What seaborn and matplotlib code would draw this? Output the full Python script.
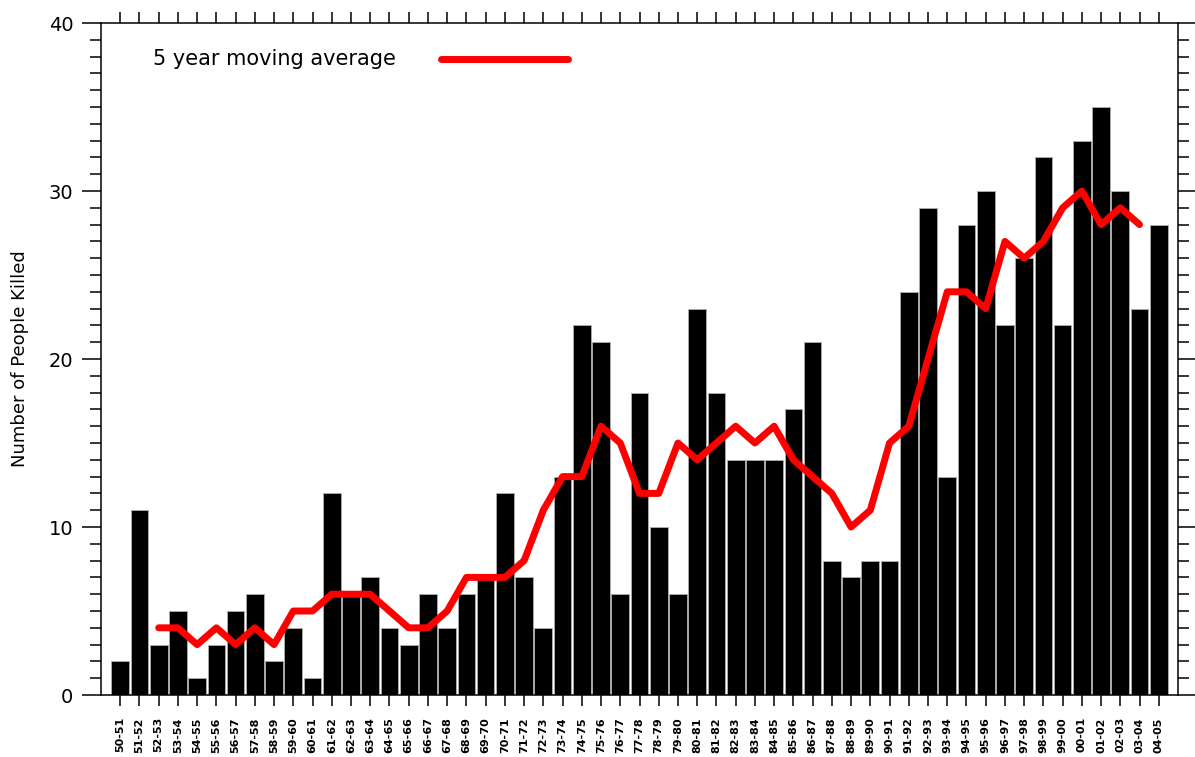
import matplotlib
matplotlib.use("Agg")
import matplotlib.pyplot as plt
import pandas as pd
import seaborn as sns
from matplotlib.ticker import MultipleLocator

# Seasons (x categories)
seasons = [
    "50-51", "51-52", "52-53", "53-54", "54-55", "55-56", "56-57", "57-58", "58-59", "59-60",
    "60-61", "61-62", "62-63", "63-64", "64-65", "65-66", "66-67", "67-68", "68-69", "69-70",
    "70-71", "71-72", "72-73", "73-74", "74-75", "75-76", "76-77", "77-78", "78-79", "79-80",
    "80-81", "81-82", "82-83", "83-84", "84-85", "85-86", "86-87", "87-88", "88-89", "89-90",
    "90-91", "91-92", "92-93", "93-94", "94-95", "95-96", "96-97", "97-98", "98-99", "99-00",
    "00-01", "01-02", "02-03", "03-04", "04-05",
]

# People killed per season (bars)
killed = [
    2, 11, 3, 5, 1, 3, 5, 6, 2, 4,
    1, 12, 6, 7, 4, 3, 6, 4, 6, 7,
    12, 7, 4, 13, 22, 21, 6, 18, 10, 6,
    23, 18, 14, 14, 14, 17, 21, 8, 7, 8,
    8, 24, 29, 13, 28, 30, 22, 26, 32, 22,
    33, 35, 30, 23, 28,
]

# 5 year moving average (red line), 52-53 .. 03-04
ma_seasons = seasons[2:54]
moving_avg = [
    4, 4, 3, 4, 3, 4, 3, 5, 5, 6,
    6, 6, 5, 4, 4, 5, 7, 7, 7, 8,
    11, 13, 13, 16, 15, 12, 12, 15, 14, 15,
    16, 15, 16, 14, 13, 12, 10, 11, 15, 16,
    20, 24, 24, 23, 27, 26, 27, 29, 30, 28,
    29, 28,
]

sns.set_style("ticks")
plt.rcParams["font.family"] = ["DejaVu Sans"]
plt.rcParams["text.color"] = "black"
plt.rcParams["axes.labelcolor"] = "black"
plt.rcParams["xtick.color"] = "black"
plt.rcParams["ytick.color"] = "black"

df = pd.DataFrame({"season": seasons, "killed": killed})

fig = plt.figure(figsize=(11.95, 7.57), dpi=100)
ax = fig.add_axes([0.0845, 0.0819, 0.9013, 0.8877])

sns.barplot(data=df, x="season", y="killed", order=seasons, color="black",
            width=0.92, saturation=1, edgecolor="#b0b0b0", linewidth=0.6, ax=ax)

ma_x = [seasons.index(s) for s in ma_seasons]
ax.plot(ma_x, moving_avg, color="#ff0000", linewidth=5, solid_joinstyle="round",
        solid_capstyle="round", zorder=5)

ax.set_xlim(-1, 55)
ax.set_ylim(0, 40)
ax.set_yticks([0, 10, 20, 30, 40])
ax.yaxis.set_minor_locator(MultipleLocator(1))
ax.set_xlabel("")
ax.set_ylabel("Number of People Killed", fontsize=13, labelpad=14)

for s in ax.spines.values():
    s.set_visible(True)
    s.set_color("black")
    s.set_linewidth(1.1)

ax.tick_params(axis="y", which="major", left=True, right=True, direction="out",
               length=14, width=1.1, labelsize=14, pad=6)
ax.tick_params(axis="y", which="minor", left=True, right=True, direction="out",
               length=8, width=1.1)
ax.tick_params(axis="x", which="major", bottom=True, top=True, direction="out",
               length=8, width=1.1, labelsize=8, pad=8)
plt.setp(ax.get_xticklabels(), rotation=90, fontweight="bold")

# legend drawn as text + line sample
ax.text(0.048, 0.947, "5 year moving average", transform=ax.transAxes,
        fontsize=15, va="center", ha="left")
ax.plot([0.316, 0.434], [0.947, 0.947], transform=ax.transAxes, color="#ff0000",
        linewidth=5, solid_capstyle="round")

fig.savefig("out.png", dpi=100)
